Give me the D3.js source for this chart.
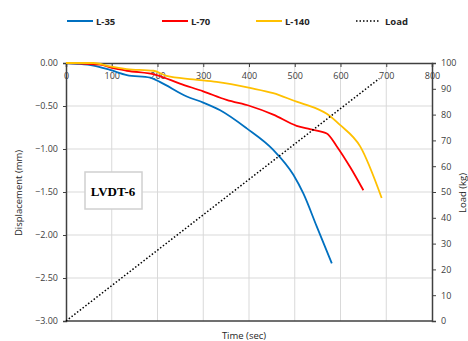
<!DOCTYPE html>
<html>
<head>
<meta charset="utf-8">
<script src="https://cdn.jsdelivr.net/npm/d3@7"></script>
<style>
  body { margin: 0; background: #fff; }
  text { font-family: "Liberation Sans Narrow", "Open Sans", Arial, sans-serif; }
</style>
</head>
<body>
<div id="chart"></div>
<script>
// data
const timeL35 = [0, 30, 60, 96, 133, 184, 205, 264, 300, 337, 395, 453, 497, 519, 548, 581]
const dispL35 = [0, -0.01, -0.03, -0.08, -0.14, -0.17, -0.22, -0.39, -0.46, -0.55, -0.76, -1.01, -1.30, -1.52, -1.90, -2.33]

const timeL70 = [0, 74, 103, 133, 198, 249, 300, 351, 402, 453, 504, 533, 570, 592, 621, 650]
const dispL70 = [0, -0.02, -0.06, -0.09, -0.14, -0.24, -0.33, -0.43, -0.50, -0.60, -0.73, -0.77, -0.82, -0.97, -1.21, -1.48]

const timeL140 = [0, 60, 96, 133, 191, 220, 278, 329, 402, 453, 504, 548, 570, 599, 643, 690]
const dispL140 = [0, 0, -0.04, -0.07, -0.09, -0.15, -0.19, -0.22, -0.29, -0.35, -0.45, -0.53, -0.59, -0.72, -0.97, -1.57]

const timeLoad = [0, 685]
const load = [0, 94]

const xTicks = [0, 100, 200, 300, 400, 500, 600, 700, 800]
const yTicks = [0, -0.5, -1, -1.5, -2, -2.5, -3]
const y2Ticks = [0, 10, 20, 30, 40, 50, 60, 70, 80, 90, 100]

const seriesNames = ['L-35', 'L-70', 'L-140']
const seriesColors = ['#0070C0', '#FF0000', '#FFC000']

let width = 468
let height = 341
let margin = { top: 63, left: 66, right: 36, bottom: 20 }

const svg = d3.select('#chart')
  .append('svg')
  .attr('width', width)
  .attr('height', height)

const x = d3.scaleLinear().domain([0, 800]).range([margin.left, width - margin.right])
const y = d3.scaleLinear().domain([-3, 0]).range([height - margin.bottom, margin.top])
const y2 = d3.scaleLinear().domain([0, 100]).range([height - margin.bottom, margin.top])

// gridlines
svg.append('g')
  .selectAll('line')
  .data(xTicks.slice(1, -1))
  .enter()
  .append('line')
  .attr('x1', d => x(d)).attr('x2', d => x(d))
  .attr('y1', y(0)).attr('y2', y(-3))
  .attr('stroke', '#d9d9d9')

svg.append('g')
  .selectAll('line')
  .data(yTicks.slice(1, -1))
  .enter()
  .append('line')
  .attr('x1', x(0)).attr('x2', x(800))
  .attr('y1', d => y(d)).attr('y2', d => y(d))
  .attr('stroke', '#d9d9d9')

// bottom frame line
svg.append('line')
  .attr('x1', x(0)).attr('x2', x(800))
  .attr('y1', y(-3)).attr('y2', y(-3))
  .attr('stroke', '#404040').attr('stroke-width', 1.5)

// axes
const xAxis = svg.append('g')
  .attr('transform', 'translate(0,' + y(0) + ')')
  .call(d3.axisBottom(x).tickValues(xTicks).tickSize(4).tickFormat(d3.format('d')))
const yAxis = svg.append('g')
  .attr('transform', 'translate(' + x(0) + ',0)')
  .call(d3.axisLeft(y).tickValues(yTicks).tickSize(3).tickFormat(d3.format('.2f')))
const y2Axis = svg.append('g')
  .attr('transform', 'translate(' + x(800) + ',0)')
  .call(d3.axisRight(y2).tickValues(y2Ticks).tickSize(4))

for (const ax of [xAxis, yAxis, y2Axis]) {
  ax.select('.domain').attr('stroke', '#404040').attr('stroke-width', 1.5)
  ax.selectAll('.tick line').attr('stroke', '#404040')
  ax.selectAll('.tick text').attr('font-size', '9px').attr('fill', '#404040')
    .style('font-family', '"Liberation Sans Narrow", "Open Sans", Arial, sans-serif')
}
xAxis.selectAll('.tick text').attr('y', 10)
yAxis.selectAll('.tick text').attr('x', -8)
y2Axis.selectAll('.tick text').attr('x', 9)

// series
const line = d3.line().curve(d3.curveMonotoneX).x(d => x(d[0])).y(d => y(d[1]))
const seriesData = [
  d3.zip(timeL35, dispL35),
  d3.zip(timeL70, dispL70),
  d3.zip(timeL140, dispL140)
]

svg.selectAll('.series')
  .data(seriesData)
  .enter()
  .append('path')
  .attr('class', 'series')
  .attr('d', line)
  .attr('fill', 'none')
  .attr('stroke', (d, i) => seriesColors[i])
  .attr('stroke-width', 1.8)

const loadLine = d3.line().x(d => x(d[0])).y(d => y2(d[1]))
svg.append('path')
  .attr('d', loadLine(d3.zip(timeLoad, load)))
  .attr('fill', 'none')
  .attr('stroke', '#000')
  .attr('stroke-width', 1.5)
  .attr('stroke-dasharray', '1.5,2')

// label box
svg.append('rect')
  .attr('x', 85).attr('y', 172)
  .attr('width', 57).attr('height', 37)
  .attr('fill', '#fff')
  .attr('stroke', '#d0d0d0')
  .attr('stroke-width', 1.5)
svg.append('text')
  .attr('x', 113).attr('y', 196)
  .attr('text-anchor', 'middle')
  .attr('font-size', '13px')
  .attr('font-weight', 'bold')
  .style('font-family', '"Liberation Serif", "DejaVu Serif", serif')
  .text('LVDT-6')

// axis titles
svg.append('text')
  .attr('transform', 'translate(22,' + (y(-1.5) + 1) + ') rotate(-90)')
  .attr('text-anchor', 'middle')
  .attr('font-size', '9.5px')
  .attr('fill', '#262626')
  .text('Displacement (mm)')

svg.append('text')
  .attr('transform', 'translate(466,' + (y2(50) + 1) + ') rotate(-90)')
  .attr('text-anchor', 'middle')
  .attr('font-size', '9.5px')
  .attr('fill', '#262626')
  .text('Load (kg)')

svg.append('text')
  .attr('x', 244).attr('y', 339)
  .attr('text-anchor', 'middle')
  .attr('font-size', '9.5px')
  .attr('fill', '#262626')
  .text('Time (sec)')

// legend
const legendX = [67, 162, 256, 356]
const legendItems = seriesNames.concat(['Load'])
const legend = svg.append('g')
legendItems.forEach((name, i) => {
  legend.append('line')
    .attr('x1', legendX[i]).attr('x2', legendX[i] + (i < 3 ? 26 : 24))
    .attr('y1', 21).attr('y2', 21)
    .attr('stroke', i < 3 ? seriesColors[i] : '#000')
    .attr('stroke-width', i < 3 ? 2 : 1.5)
    .attr('stroke-dasharray', i < 3 ? null : '1.5,2')
  legend.append('text')
    .attr('x', legendX[i] + 29)
    .attr('y', 24.5)
    .attr('font-size', '9.5px')
    .attr('font-weight', 'bold')
    .attr('fill', '#262626')
    .text(name)
})
</script>
</body>
</html>
